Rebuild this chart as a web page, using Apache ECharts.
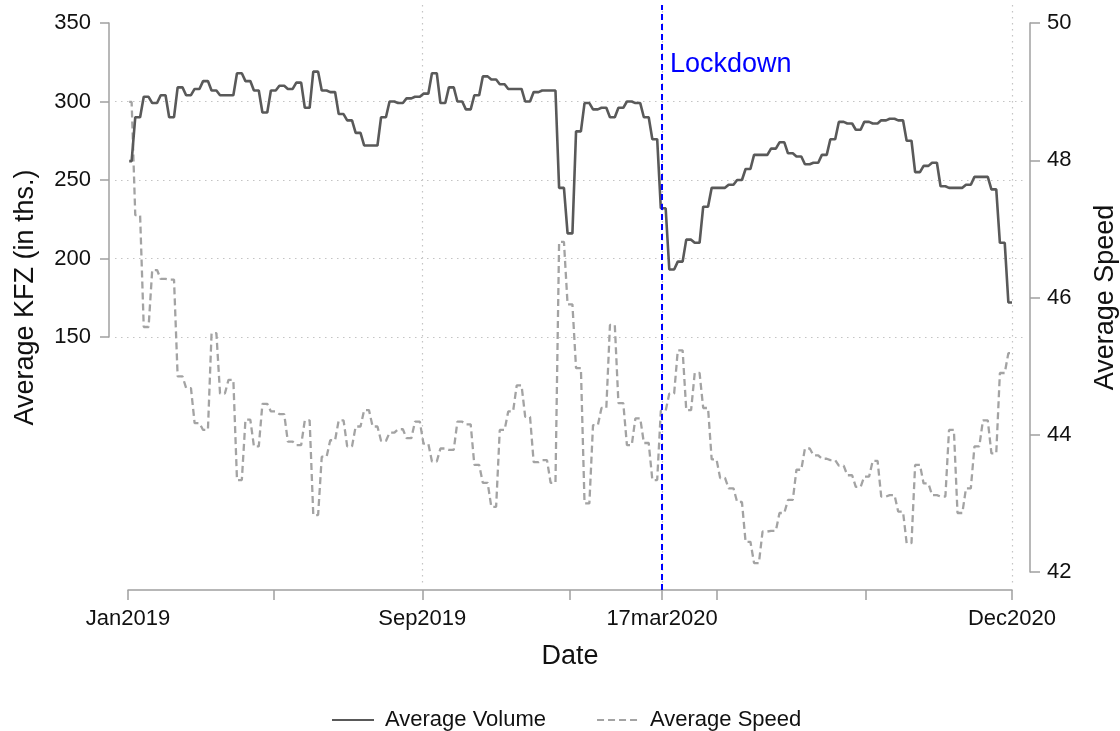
<!DOCTYPE html>
<html>
<head>
<meta charset="utf-8">
<script src="https://cdn.jsdelivr.net/npm/echarts@6/dist/echarts.min.js"></script>
<style>
    html, body { margin: 0; padding: 0; background: #fff; }
    #chart { width: 1120px; height: 731px; }
</style>
</head>
<body>
<div id="chart"></div>
<script>
// weekly averages, one value per week (weeks start Mon 31 Dec 2018)
const volume = [
    262, 290, 303, 299, 304, 290, 309, 304, 308, 313,
    307, 304, 304, 318, 313, 307, 293, 307, 310, 308,
    312, 296, 319, 307, 306, 292, 288, 280, 272, 272,
    290, 300, 299, 302, 303, 305, 318, 299, 309, 300,
    295, 304, 316, 314, 311, 308, 308, 300, 306, 307,
    307, 245, 216, 281, 299, 295, 296, 290, 296, 300,
    299, 290, 276, 232, 193, 198, 212, 210, 233, 245,
    245, 247, 250, 257, 266, 266, 270, 274, 267, 265,
    260, 261, 266, 276, 287, 286, 282, 287, 286, 288,
    289, 288, 275, 255, 259, 261, 246, 245, 245, 247,
    252, 252, 244, 210, 172
]
const speed = [
    48.85, 47.2, 45.57, 46.4, 46.27, 46.26, 44.85, 44.68, 44.17, 44.07,
    45.48, 44.6, 44.8, 43.34, 44.22, 43.83, 44.45, 44.34, 44.3, 43.9,
    43.85, 44.21, 42.83, 43.68, 43.92, 44.21, 43.83, 44.12, 44.36, 44.12,
    43.91, 44.03, 44.08, 43.95, 44.19, 43.87, 43.61, 43.8, 43.78, 44.19,
    44.15, 43.56, 43.3, 42.95, 44.07, 44.34, 44.72, 44.26, 43.6, 43.63,
    43.3, 46.81, 45.9, 44.97, 43.0, 44.14, 44.39, 45.6, 44.46, 43.85,
    44.24, 43.88, 43.34, 44.35, 44.6, 45.23, 44.36, 44.9, 44.39, 43.64,
    43.37, 43.22, 43.02, 42.44, 42.13, 42.59, 42.6, 42.86, 43.05, 43.49,
    43.8, 43.7, 43.65, 43.63, 43.55, 43.41, 43.24, 43.39, 43.62, 43.1,
    43.12, 42.88, 42.42, 43.56, 43.29, 43.12, 43.1, 44.07, 42.86, 43.22,
    43.83, 44.21, 43.73, 44.9, 45.19
]
// x axis in days since 1 Jan 2019
const tickDays = [0, 120, 243, 365, 441, 486, 609, 730]
const labelDays = [0, 243, 441, 730]
const labelTexts = ['Jan2019', 'Sep2019', '17mar2020', 'Dec2020']
const gridDays = [243, 441, 730]
const gridVolume = [150, 200, 250, 300]
const lockdownDay = 441
const lastDay = 730

// each weekly value is held Monday to Friday
function weekly(values) {
    const out = []
    values.forEach((v, k) => {
        const mon = Math.max(1, 7 * k - 1)
        const fri = Math.min(lastDay, 7 * k + 3)
        out.push([mon, v], [fri, v])
    })
    return out
}

const font = 'Liberation Sans'
const axisGray = '#a0a0a0'
const gridStyle = { color: '#c4c4c4', width: 1.2, type: [1.5, 4.5] }

const myChart = echarts.init(document.getElementById('chart'))
const option = {
    animation: false,
    textStyle: { fontFamily: font },
    grid: [
        // dotted grid frame
        { left: 115, right: 95, top: 5, bottom: 148, outerBoundsMode: 'none' },
        // volume
        { left: 128, right: 108, top: 23, height: 314, outerBoundsMode: 'none' },
        // speed
        { left: 128, right: 108, top: 23, bottom: 159, outerBoundsMode: 'none' },
        // lockdown line
        { left: 128, right: 108, top: 5, bottom: 141, outerBoundsMode: 'none' }
    ],
    xAxis: [
        {
            gridIndex: 0, type: 'value', min: -10.735, max: 740.73,
            axisLine: { show: false, onZero: false },
            axisTick: { show: false, customValues: gridDays },
            axisLabel: { show: false },
            splitLine: { show: true, lineStyle: gridStyle }
        },
        { gridIndex: 1, type: 'value', min: 0, max: lastDay, show: false, axisLine: { onZero: false } },
        {
            gridIndex: 2, type: 'value', min: 0, max: lastDay, position: 'bottom', offset: 18,
            axisLine: { onZero: false, lineStyle: { color: axisGray, width: 1.5 } },
            axisTick: { length: 10, customValues: tickDays, lineStyle: { color: axisGray, width: 1.5 } },
            axisLabel: {
                customValues: labelDays,
                margin: 18,
                fontSize: 22,
                color: '#111',
                formatter: function (v) { return labelTexts[labelDays.indexOf(v)] }
            },
            splitLine: { show: false },
            name: 'Date',
            nameLocation: 'middle',
            nameGap: 53,
            nameTextStyle: { fontSize: 27, color: '#111' }
        },
        { gridIndex: 3, type: 'value', min: 0, max: lastDay, show: false, axisLine: { onZero: false } }
    ],
    yAxis: [
        {
            gridIndex: 0, type: 'value', min: -6.688, max: 361.465,
            axisLine: { show: false, onZero: false },
            axisTick: { show: false, customValues: gridVolume },
            axisLabel: { show: false },
            splitLine: { show: true, lineStyle: gridStyle }
        },
        {
            gridIndex: 1, type: 'value', position: 'left', min: 150, max: 350, interval: 50, offset: 19,
            axisLine: { show: true, onZero: false, lineStyle: { color: axisGray, width: 1.5 } },
            axisTick: { show: true, length: 9, lineStyle: { color: axisGray, width: 1.5 } },
            axisLabel: { margin: 18, fontSize: 22, color: '#111' },
            splitLine: { show: false }
        },
        {
            gridIndex: 2, type: 'value', position: 'right', min: 42, max: 50, interval: 2, offset: 18,
            axisLine: { show: true, onZero: false, lineStyle: { color: axisGray, width: 1.5 } },
            axisTick: { show: true, length: 10, lineStyle: { color: axisGray, width: 1.5 } },
            axisLabel: { margin: 17, fontSize: 22, color: '#111' },
            splitLine: { show: false },
            name: 'Average Speed',
            nameLocation: 'middle',
            nameRotate: 90,
            nameGap: 62,
            nameTextStyle: { fontSize: 27, color: '#111' }
        },
        {
            // only carries the left title, centred on the full plot height
            gridIndex: 2, type: 'value', position: 'left', min: 0, max: 1,
            axisLine: { show: false, onZero: false },
            axisTick: { show: false },
            axisLabel: { show: false },
            splitLine: { show: false },
            name: 'Average KFZ (in ths.)',
            nameLocation: 'middle',
            nameGap: 89,
            nameTextStyle: { fontSize: 27, color: '#111' }
        },
        { gridIndex: 3, type: 'value', min: 0, max: 1, show: false, axisLine: { onZero: false } }
    ],
    legend: {
        data: ['Average Volume', 'Average Speed'],
        left: 326,
        top: 704,
        itemWidth: 42,
        itemHeight: 14,
        itemGap: 50,
        itemStyle: { opacity: 0 },
        textStyle: { fontSize: 22, color: '#111', padding: [0, 0, 0, 6] }
    },
    graphic: [
        {
            type: 'text', left: 670, top: 51,
            style: { text: 'Lockdown', fill: '#0000ff', font: '27px "Liberation Sans"' }
        }
    ],
    series: [
        {
            name: 'Average Speed',
            type: 'line',
            xAxisIndex: 2,
            yAxisIndex: 2,
            symbol: 'none',
            data: weekly(speed),
            lineStyle: { color: '#a3a3a3', width: 2.3, type: [7, 4] },
            itemStyle: { color: '#a3a3a3' }
        },
        {
            name: 'Average Volume',
            type: 'line',
            xAxisIndex: 1,
            yAxisIndex: 1,
            symbol: 'none',
            data: weekly(volume),
            lineStyle: { color: '#595959', width: 2.6 },
            itemStyle: { color: '#595959' }
        },
        {
            name: 'lockdown',
            type: 'line',
            xAxisIndex: 3,
            yAxisIndex: 4,
            data: [],
            markLine: {
                silent: true,
                symbol: 'none',
                label: { show: false },
                lineStyle: { color: '#0000ff', width: 2, type: [6, 4] },
                data: [{ xAxis: lockdownDay }]
            }
        }
    ]
}
myChart.setOption(option)
</script>
</body>
</html>
